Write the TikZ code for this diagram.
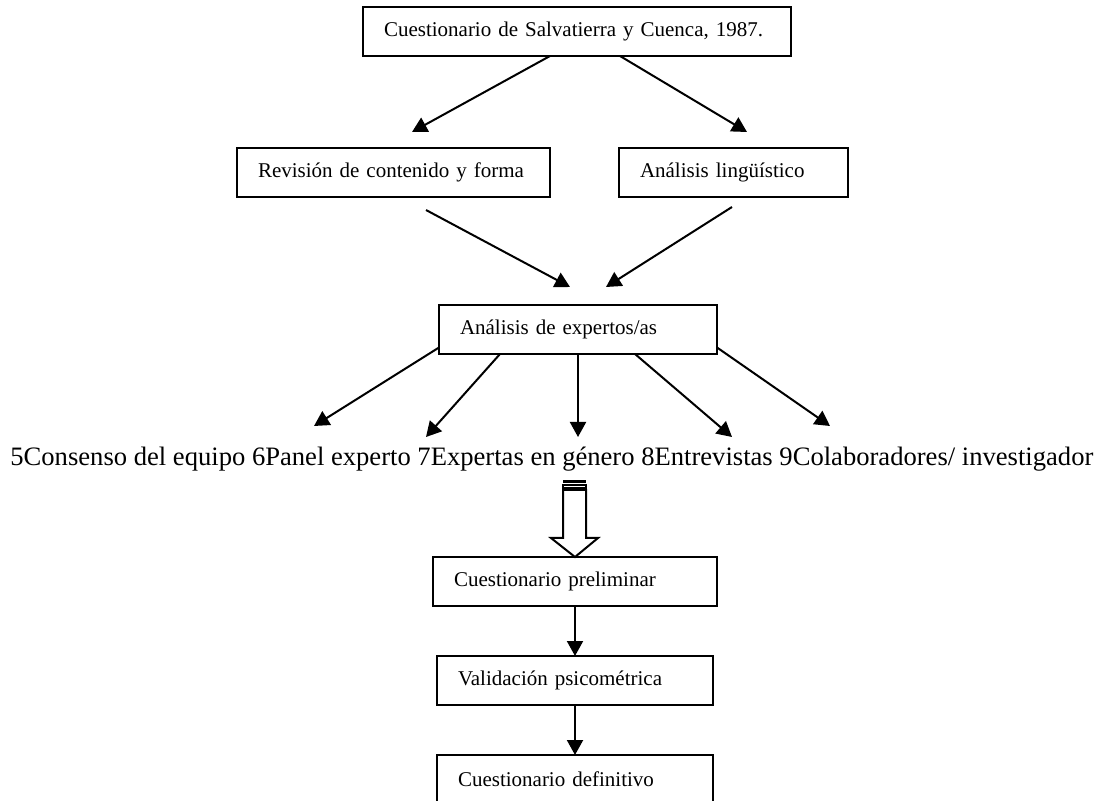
\documentclass[tikz,border=0pt]{standalone}
\usepackage{fontspec}
\setmainfont{Liberation Serif}
\usetikzlibrary{arrows.meta}

\begin{document}
\begin{tikzpicture}[x=0.5pt,y=-0.5pt,
  caja/.style={draw,line width=1pt,outer sep=0pt,anchor=north west,minimum height=24.5pt,
    inner xsep=10.5pt,text width=#1,align=left,font=\fontsize{10.5}{12}\selectfont},
  caja/.default=117pt,
  flecha/.style={-{Triangle[length=7.5pt,width=8pt]},line width=1pt}]

\clip (0,0) rectangle (1097,801);

\node [caja=193pt] (cuest) at (363,7) {Cuestionario de Salvatierra y Cuenca, 1987.};
\node [caja=135.5pt] (rev) at (237,148) {Revisión de contenido y forma};
\node [caja=93.5pt] (ling) at (619,148) {Análisis lingüístico};
\node [caja=118pt] (exp) at (439,305) {Análisis de expertos/as};

\node [anchor=base west,inner sep=0pt,font=\fontsize{13.3}{16}\selectfont] (lista) at (10,466)
  {5Consenso del equipo 6Panel experto 7Expertas en género 8Entrevistas 9Colaboradores/ investigador};

\node [caja=121pt] (prel) at (433,557) {Cuestionario preliminar};
\node [caja] (valid) at (437,656) {Validación psicométrica};
\node [caja] (def) at (437,755) {Cuestionario definitivo};

% puntas de las flechas
\coordinate (p1) at (412,132);
\coordinate (p2) at (747,132);
\coordinate (p3) at (570,287);
\coordinate (p4) at (606,287);

\draw[flecha] ([xshift=-13.5pt]cuest.south) -- (p1);
\draw[flecha] ([xshift=21.5pt]cuest.south) -- (p2);
\draw[flecha] ([xshift=16.25pt,yshift=-6.5pt]rev.south) -- (p3);
\draw[flecha] ([xshift=-0.75pt,yshift=-5pt]ling.south) -- (p4);

\foreach \ancla/\dx/\dy/\hasta/\n in {exp.west/0/-9/{314,426}/5, exp.south/-39/0/{426,437}/6,
  exp.south/0/0/{578,437}/7, exp.south/28.5/0/{732,437}/8, exp.east/0/-9/{830,426}/9}{
 \coordinate (q\n) at (\hasta);
 \draw[flecha] ([xshift=\dx pt,yshift=\dy pt]\ancla) -- (q\n);
}

% flecha hueca con rayas
\fill (563,480) rectangle (586,483.5);
\draw[line width=0.6pt] (563,485) rectangle (586,488);
\draw[line width=1pt,line join=miter] (563,490) -- (586,490) -- (586,538) -- (598,538)
  -- (prel.north) -- (551,538) -- (563,538) -- cycle;

\draw[flecha] (prel.south) -- (valid.north);
\draw[flecha] (valid.south) -- (def.north);
\end{tikzpicture}
\end{document}
